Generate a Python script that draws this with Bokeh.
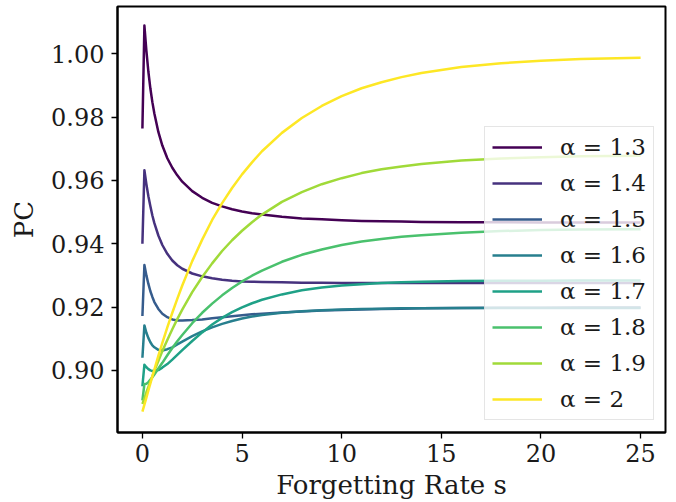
from bokeh.plotting import figure
from bokeh.models import Range1d, FixedTicker, Legend, LegendItem, PrintfTickFormatter
from bokeh.embed import file_html
from bokeh.resources import INLINE

# Forgetting rate s (x values)
s_values = [0, 0.1, 0.2, 0.3, 0.4, 0.5, 0.6, 0.8, 1.0, 1.25, 1.5, 1.75, 2.0, 2.5, 3.0, 3.5,
            4.0, 4.5, 5.0, 5.5, 6.0, 7.0, 8.0, 9.0, 10, 11, 12, 13, 14, 16, 18, 20, 22, 25]

# PC values per alpha
pc_a13 = [0.9764, 1.0089, 1.0009, 0.9943, 0.9890, 0.9847, 0.9811, 0.9753, 0.9710, 0.9670, 0.9640,
          0.9616, 0.9596, 0.9566, 0.9545, 0.9529, 0.9518, 0.9509, 0.9502, 0.9496, 0.9492, 0.9485,
          0.9480, 0.9477, 0.9474, 0.9472, 0.9471, 0.9470, 0.9469, 0.9468, 0.9468, 0.9467, 0.9467, 0.9467]
pc_a14 = [0.9400, 0.9632, 0.9588, 0.9550, 0.9518, 0.9489, 0.9465, 0.9426, 0.9396, 0.9368, 0.9347,
          0.9332, 0.9321, 0.9306, 0.9297, 0.9291, 0.9286, 0.9283, 0.9281, 0.9280, 0.9279, 0.9278,
          0.9277, 0.9277, 0.9276, 0.9276, 0.9276, 0.9276, 0.9276, 0.9276, 0.9276, 0.9276, 0.9276, 0.9276]
pc_a15 = [0.9172, 0.9333, 0.9300, 0.9273, 0.9250, 0.9232, 0.9216, 0.9194, 0.9179, 0.9168, 0.9161,
          0.9158, 0.9158, 0.9159, 0.9161, 0.9165, 0.9168, 0.9171, 0.9174, 0.9177, 0.9179, 0.9183,
          0.9186, 0.9189, 0.9191, 0.9192, 0.9194, 0.9195, 0.9196, 0.9197, 0.9198, 0.9198, 0.9199, 0.9199]
pc_a16 = [0.9040, 0.9142, 0.9119, 0.9102, 0.9089, 0.9079, 0.9073, 0.9065, 0.9063, 0.9067, 0.9073,
          0.9082, 0.9091, 0.9108, 0.9123, 0.9136, 0.9147, 0.9156, 0.9164, 0.9170, 0.9175, 0.9182,
          0.9187, 0.9190, 0.9192, 0.9194, 0.9195, 0.9196, 0.9196, 0.9197, 0.9197, 0.9197, 0.9197, 0.9197]
pc_a17 = [0.8950, 0.9018, 0.9010, 0.9004, 0.9000, 0.8998, 0.8999, 0.9001, 0.9009, 0.9020, 0.9034,
          0.9049, 0.9064, 0.9093, 0.9120, 0.9145, 0.9166, 0.9184, 0.9199, 0.9212, 0.9223, 0.9240,
          0.9253, 0.9262, 0.9268, 0.9272, 0.9276, 0.9278, 0.9280, 0.9282, 0.9283, 0.9283, 0.9284, 0.9284]
pc_a18 = [0.8905, 0.8957, 0.8958, 0.8963, 0.8971, 0.8978, 0.8987, 0.9006, 0.9024, 0.9048, 0.9071,
          0.9092, 0.9112, 0.9149, 0.9182, 0.9211, 0.9237, 0.9260, 0.9281, 0.9299, 0.9315, 0.9343,
          0.9365, 0.9382, 0.9396, 0.9407, 0.9415, 0.9422, 0.9427, 0.9435, 0.9440, 0.9443, 0.9445, 0.9446]
pc_a19 = [0.8894, 0.8912, 0.8931, 0.8948, 0.8965, 0.8982, 0.8999, 0.9030, 0.9061, 0.9096, 0.9130,
          0.9162, 0.9192, 0.9247, 0.9295, 0.9338, 0.9377, 0.9411, 0.9441, 0.9468, 0.9492, 0.9532,
          0.9563, 0.9588, 0.9607, 0.9623, 0.9635, 0.9644, 0.9652, 0.9663, 0.9669, 0.9673, 0.9676, 0.9678]
pc_a20 = [0.8870, 0.8892, 0.8914, 0.8937, 0.8959, 0.8981, 0.9003, 0.9046, 0.9087, 0.9136, 0.9182,
          0.9226, 0.9268, 0.9345, 0.9413, 0.9475, 0.9528, 0.9576, 0.9619, 0.9657, 0.9692, 0.9750,
          0.9797, 0.9835, 0.9866, 0.9891, 0.9910, 0.9926, 0.9939, 0.9958, 0.9970, 0.9978, 0.9983, 0.9987]

series = [pc_a13, pc_a14, pc_a15, pc_a16, pc_a17, pc_a18, pc_a19, pc_a20]
labels = ["α = 1.3", "α = 1.4", "α = 1.5", "α = 1.6", "α = 1.7", "α = 1.8", "α = 1.9", "α = 2"]
colors = ["#440154", "#46327e", "#365c8d", "#277f8e", "#1fa187", "#4ac16d", "#a0da39", "#fde725"]

x_ticks = [0, 5, 10, 15, 20, 25]
y_ticks = [0.90, 0.92, 0.94, 0.96, 0.98, 1.00]

FONT = "DejaVu Serif"

p = figure(width=676, height=502, output_backend="svg", toolbar_location=None,
           x_range=Range1d(-1.25, 26.25), y_range=Range1d(0.8804, 1.0149),
           min_border_left=117, min_border_right=11, min_border_top=6, min_border_bottom=69)
p.background_fill_color = "white"
p.border_fill_color = "white"
p.grid.visible = False
p.outline_line_color = "black"
p.outline_line_width = 2
p.outline_line_alpha = 1.0

renderers = []
for ys, c in zip(series, colors):
    r = p.line(s_values, ys, line_color=c, line_width=2.5, line_join="round")
    renderers.append(r)

for ax in (p.xaxis[0], p.yaxis[0]):
    ax.axis_line_color = "black"
    ax.axis_line_width = 2
    ax.major_tick_in = 0
    ax.major_tick_out = 6
    ax.major_tick_line_color = "black"
    ax.major_tick_line_width = 1.3
    ax.minor_tick_line_color = None
    ax.major_label_text_font = FONT
    ax.major_label_text_font_size = "24px"
    ax.major_label_text_color = "#1a1a1a"
    ax.axis_label_text_font = FONT
    ax.axis_label_text_font_size = "26px"
    ax.axis_label_text_font_style = "normal"
    ax.axis_label_text_color = "#1a1a1a"

p.xaxis[0].ticker = FixedTicker(ticks=x_ticks)
p.yaxis[0].ticker = FixedTicker(ticks=y_ticks)
p.yaxis[0].formatter = PrintfTickFormatter(format="%.2f")
p.xaxis[0].axis_label = "Forgetting Rate s"
p.yaxis[0].axis_label = "PC"
p.xaxis[0].major_label_standoff = 5
p.yaxis[0].major_label_standoff = 7
p.xaxis[0].axis_label_standoff = 5
p.yaxis[0].axis_label_standoff = 9

legend = Legend(items=[LegendItem(label=l, renderers=[r]) for l, r in zip(labels, renderers)],
                location=(367, 12))
legend.label_text_font = FONT
legend.label_text_font_size = "23px"
legend.label_text_color = "#1a1a1a"
legend.glyph_width = 50
legend.glyph_height = 26
legend.label_height = 26
legend.spacing = 10
legend.padding = 7
legend.margin = 0
legend.label_standoff = 18
legend.border_line_color = "#cccccc"
legend.border_line_width = 1
legend.background_fill_color = "white"
legend.background_fill_alpha = 0.8
p.add_layout(legend, "center")

open("out.html", "w").write(file_html(p, INLINE))
